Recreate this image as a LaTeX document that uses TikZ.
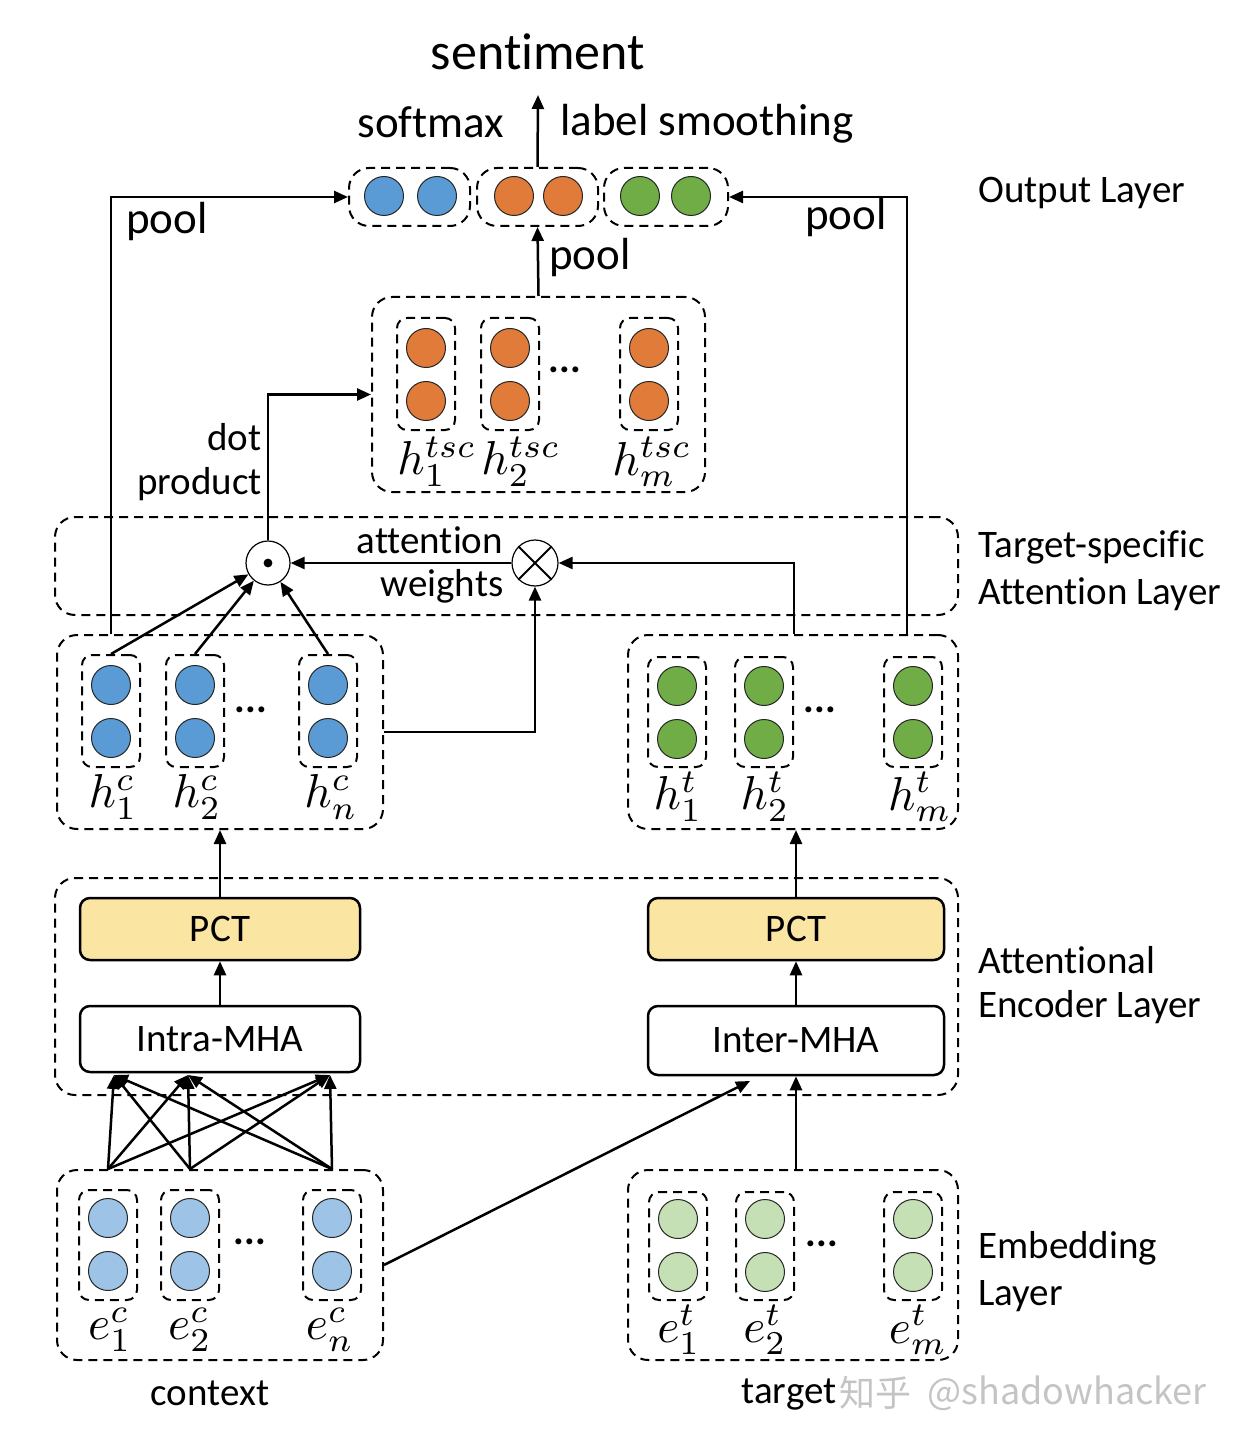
\documentclass[tikz,border=0pt]{standalone}
\usepackage{fontspec}
\setmainfont{Carlito}[Ligatures=NoCommon]
\newfontfamily\cjkfont{Noto Sans CJK SC}
\usetikzlibrary{arrows.meta,fit,calc}
\definecolor{cblue}{HTML}{5B9BD5}
\definecolor{corange}{HTML}{E07B39}
\definecolor{cgreen}{HTML}{70AD47}
\definecolor{lblue}{HTML}{9DC3E6}
\definecolor{lgreen}{HTML}{C5E0B4}
\definecolor{pctfill}{HTML}{FBE5A2}
\definecolor{wmgray}{HTML}{C4C4C4}
\newcommand\mkcol[6]{%
  \node[colbox, fit={(#2-29,#3) (#2+29,#4)}] (#1) {};
  \node[circ, fill=#5] (#1a) at (#2,#3+#6) {};
  \node[circ, fill=#5] (#1b) at (#2,#3+#6+53) {};
}
\newcommand\mlab[1]{\scalebox{2.38}{$#1$}}
\begin{document}
\begin{tikzpicture}[x=0.5pt,y=-0.5pt,
  dbox/.style={draw, dash pattern=on 4.5pt off 3pt, line width=1pt, rounded corners=10pt, inner sep=0pt},
  colbox/.style={dbox, rounded corners=5pt},
  circ/.style={circle, draw=black!85, line width=0.5pt, minimum size=19.5pt, inner sep=0pt},
  arr/.style={-{Triangle[length=7pt,width=6pt]}, line width=1.25pt},
  lbl/.style={font=\fontsize{19.5}{23}\selectfont, inner sep=0pt},
  big/.style={font=\fontsize{22.5}{26}\selectfont, inner sep=0pt},
  mth/.style={font=\fontsize{10}{12}\selectfont, inner sep=0pt},
  blk/.style={draw, line width=1.25pt, rounded corners=5pt, inner sep=0pt},
  dts/.style={font=\fontsize{20}{23}\selectfont\bfseries, inner sep=0pt}
]
\useasboundingbox (0,0) rectangle (1236,1444);

% layer boxes
\node[dbox, fit={(55,517) (958,615)}] (attlayer) {};
\node[dbox, fit={(55,878) (958,1095)}] (enclayer) {};

% output row
\node[dbox, fit={(349,168) (470,226)}] (bbox) {};
\node[dbox, fit={(477,168) (598,226)}] (obox) {};
\node[dbox, fit={(604,168) (728,226)}] (gbox) {};
\node[circ, fill=cblue] (o1) at (384,196) {};
\node[circ, fill=cblue] (o2) at (437,196) {};
\node[circ, fill=corange] (o3) at (514,196) {};
\node[circ, fill=corange] (o4) at (563,196) {};
\node[circ, fill=cgreen] (o5) at (640,196) {};
\node[circ, fill=cgreen] (o6) at (691,196) {};

% tsc box
\node[dbox, fit={(372,297) (705,492)}] (tscbox) {};
\mkcol{ts1}{426}{318}{430}{corange}{30}
\mkcol{ts2}{510}{318}{430}{corange}{30}
\mkcol{ts3}{649}{318}{430}{corange}{30}
\node[dts] (tsd) at (565,370) {...};
\node[mth] (tsl1) at (437,462) {\mlab{h^{tsc}_1}};
\node[mth] (tsl2) at (521,462) {\mlab{h^{tsc}_2}};
\node[mth] (tsl3) at (652,462) {\mlab{h^{tsc}_m}};

% hc box
\node[dbox, fit={(57,635) (383,829)}] (hcbox) {};
\mkcol{hc1}{111}{655}{767}{cblue}{30}
\mkcol{hc2}{195}{655}{767}{cblue}{30}
\mkcol{hc3}{328}{655}{767}{cblue}{30}
\node[dts] (hcd) at (251,710) {...};
\node[mth] (hcl1) at (113,797) {\mlab{h^{c}_1}};
\node[mth] (hcl2) at (197,797) {\mlab{h^{c}_2}};
\node[mth] (hcl3) at (331,797) {\mlab{h^{c}_n}};

% ht box
\node[dbox, fit={(628,635) (958,829)}] (htbox) {};
\mkcol{ht1}{677}{657}{767}{cgreen}{29}
\mkcol{ht2}{764}{657}{767}{cgreen}{29}
\mkcol{ht3}{913}{657}{767}{cgreen}{29}
\node[dts] (htd) at (820,710) {...};
\node[mth] (htl1) at (678,797) {\mlab{h^{t}_1}};
\node[mth] (htl2) at (765,797) {\mlab{h^{t}_2}};
\node[mth] (htl3) at (920,797) {\mlab{h^{t}_m}};

% ec box
\node[dbox, fit={(57,1170) (383,1360)}] (ecbox) {};
\mkcol{ec1}{108}{1190}{1300}{lblue}{28}
\mkcol{ec2}{190}{1190}{1300}{lblue}{28}
\mkcol{ec3}{332}{1190}{1300}{lblue}{28}
\node[dts] (ecd) at (250,1242) {...};
\node[mth] (ecl1) at (110,1330) {\mlab{e^{c}_1}};
\node[mth] (ecl2) at (190,1330) {\mlab{e^{c}_2}};
\node[mth] (ecl3) at (330,1330) {\mlab{e^{c}_n}};

% et box
\node[dbox, fit={(628,1170) (958,1360)}] (etbox) {};
\mkcol{et1}{678}{1192}{1300}{lgreen}{27}
\mkcol{et2}{765}{1192}{1300}{lgreen}{27}
\mkcol{et3}{913}{1192}{1300}{lgreen}{27}
\node[dts] (etd) at (822,1244) {...};
\node[mth] (etl1) at (679,1330) {\mlab{e^{t}_1}};
\node[mth] (etl2) at (765,1330) {\mlab{e^{t}_2}};
\node[mth] (etl3) at (918,1330) {\mlab{e^{t}_m}};

% blocks
\node[blk, fill=pctfill, fit={(80,898) (360,960)}, label={[lbl]center:PCT}] (pctL) {};
\node[blk, fill=white, fit={(80,1006) (360,1072)}, label={[lbl]center:Intra-MHA}] (intra) {};
\node[blk, fill=pctfill, fit={(648,898) (944,960)}, label={[lbl]center:PCT}] (pctR) {};
\node[blk, fill=white, fit={(648,1006) (944,1075)}, label={[lbl]center:Inter-MHA}] (inter) {};

% operators
\node[circle, draw, line width=0.6pt, fill=white, minimum size=22pt, inner sep=0pt] (dotop) at (268,563) {};
\fill (dotop.center) circle (2.2pt);
\node[circle, draw, line width=0.6pt, fill=white, minimum size=23pt, inner sep=0pt] (otimes) at (535,563) {};
\draw[line width=0.9pt] (otimes.north west) -- (otimes.south east) (otimes.north east) -- (otimes.south west);

% texts
\node[font=\fontsize{26}{30}\selectfont, inner sep=0pt] (sent) at (538,52) {sentiment};
\coordinate (senttip) at (538,95);
\node[big] (softmax) at (431,122) {softmax};
\node[big] (lsmooth) at (707,124) {label smoothing};
\node[big] (poolL) at (167,222) {pool};
\node[big] (poolR) at (846,218) {pool};
\node[big] (poolM) at (590,258) {pool};
\node[lbl, anchor=west] (outl) at (978,193) {Output Layer};
\node[lbl, anchor=east] (dotl) at (262,437) {dot};
\node[lbl, anchor=east] (prodl) at (262,484) {product};
\node[lbl] (attw1) at (430,540) {attention};
\node[lbl] (attw2) at (442,586) {weights};
\node[lbl, anchor=west] (tsl) at (978,547) {Target-specific};
\node[lbl, anchor=west] (tsl2) at (978,594) {Attention Layer};
\node[lbl, anchor=west] (encl) at (978,960) {Attentional};
\node[lbl, anchor=west] (encl2) at (978,1007) {Encoder Layer};
\node[lbl, anchor=west] (embl) at (978,1248) {Embedding};
\node[lbl, anchor=west] (embl2) at (978,1296) {Layer};
\node[lbl] (ctx) at (210,1393) {context};
\node[lbl] (tgt) at (789,1395) {target};
\node[font=\fontsize{18}{22}\selectfont\cjkfont, text=wmgray, inner sep=0pt, anchor=west] (wm) at (839,1393) {知乎};
\node[font=\fontsize{18}{22}\selectfont\cjkfont, text=wmgray, inner sep=0pt, anchor=west] (wm2) at (927,1393) {@shadowhacker};

% connectors top
\draw[arr] (obox.north) -- (senttip);
\draw[arr] (tscbox.north) -- (obox.south);
\draw[arr] (hcbox.north -| hc1.north) |- (bbox.west);
\draw[arr] ($(htbox.north -| ht3.north)+(-6,0)$) |- (gbox.east);
\draw[arr] (dotop.north) |- (tscbox.west);

% attention layer
\draw[arr] (otimes.west) -- (dotop.east);
\draw[arr] (htbox.north -| ht2.east) |- (otimes.east);
\draw[arr] (hcbox.east) -| (otimes.south);
\draw[arr] (hc1.north) -- (dotop);
\draw[arr] (hc2.north) -- (dotop);
\draw[arr] (hc3.north) -- (dotop);

% encoder
\draw[arr] (pctL.north) -- (hcbox.south);
\draw[arr] (pctR.north) -- (pctR.north |- htbox.south);
\draw[arr] (intra.north) -- (pctL.south);
\draw[arr] (inter.north) -- (pctR.south);
\foreach \s in {ec1,ec2,ec3}{
  \foreach \t/\tx in {1/114,2/188,3/330}{
    \draw[arr] (ecbox.north -| \s.north) -- (\tx,1075);
  }
}
\coordinate (intip) at (750,1081);
\draw[arr] (ecbox.east) -- (intip);
\draw[arr] (inter.south |- etbox.north) -- (inter.south);
\end{tikzpicture}
\end{document}
